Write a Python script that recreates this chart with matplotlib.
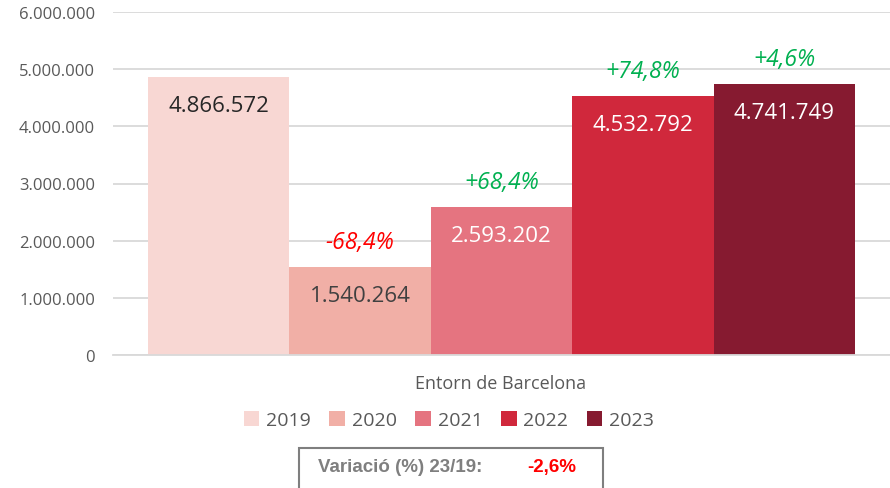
import matplotlib.pyplot as plt
from matplotlib.patches import Rectangle, Patch

years = ["2019", "2020", "2021", "2022", "2023"]
values = [4866572, 1540264, 2593202, 4532792, 4741749]
value_labels = ["4.866.572", "1.540.264", "2.593.202", "4.532.792", "4.741.749"]
changes = [None, "-68,4%", "+68,4%", "+74,8%", "+4,6%"]
category = "Entorn de Barcelona"
yticks = [0, 1000000, 2000000, 3000000, 4000000, 5000000, 6000000]
ytick_labels = ["0", "1.000.000", "2.000.000", "3.000.000", "4.000.000", "5.000.000", "6.000.000"]
total_label = "Variació (%) 23/19:"
total_change = "-2,6%"

colors = ["#F8D7D3", "#F1AFA6", "#E57480", "#D0283C", "#861A30"]
label_colors = ["#262626", "#404040", "white", "white", "white"]

fig = plt.figure(figsize=(8.9, 4.89), dpi=100)
ax = fig.add_axes([113/890, 1-356/489, 777/890, 343/489])

w = 0.182
for i, (yr, v) in enumerate(zip(years, values)):
    x = (i - 2) * w
    ax.bar(x, v, width=w, color=colors[i], label=yr, zorder=2)
    ax.text(x, v - 500000, value_labels[i], ha="center", va="center",
            fontsize=16, color=label_colors[i], family="Open Sans", zorder=3)
    if changes[i]:
        c = "#00B050" if changes[i].startswith("+") else "#FF0000"
        ax.text(x, v + 430000, changes[i], ha="center", va="center",
                fontsize=16.5, color=c, style="italic", family="Open Sans", zorder=3)

ax.set_xlim(-0.5, 0.5)
ax.set_ylim(0, 6000000)
ax.set_yticks(yticks)
ax.set_yticklabels(ytick_labels, fontsize=12, color="#595959", family="Open Sans")
ax.set_xticks([])
ax.grid(axis="y", color="#D9D9D9", linewidth=1.3, zorder=0)
for s in ["top", "right", "left"]:
    ax.spines[s].set_visible(False)
ax.spines["bottom"].set_color("#D9D9D9")
ax.spines["bottom"].set_linewidth(1.3)
ax.tick_params(axis="y", length=0, pad=13)

fig.text(501/890, 1-384/489, category, ha="center", va="center",
         fontsize=13, color="#595959", family="Open Sans")

handles = [Patch(facecolor=c, edgecolor="none") for c in colors]
fig.legend(handles, years, loc="center", bbox_to_anchor=(449/890, 1-421/489), ncol=5,
           frameon=False, handlelength=0.8, handleheight=0.8, handletextpad=0.35,
           columnspacing=0.95, prop={"family": "Open Sans", "size": 14}, labelcolor="#595959")

fig.patches.append(Rectangle((299/890, -0.05), 304/890, 0.05 + 40/489, transform=fig.transFigure,
                             facecolor="none", edgecolor="#7F7F7F", linewidth=1.5))
fig.text(318/890, 1-468/489, total_label, ha="left", va="center", fontsize=13.5,
         weight="bold", color="#7F7F7F", family="Liberation Sans")
fig.text(527/890, 1-468/489, total_change, ha="left", va="center", fontsize=13.5,
         weight="bold", color="#FF0000", family="Liberation Sans")

fig.savefig("out.png", dpi=100)
